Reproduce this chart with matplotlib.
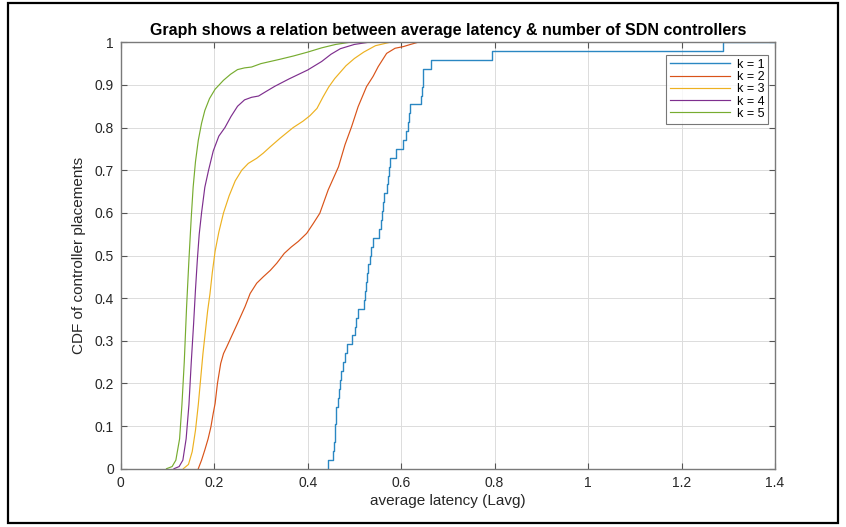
import matplotlib
matplotlib.use("Agg")
import matplotlib.pyplot as plt
from matplotlib.patches import Rectangle
import numpy as np

plt.rcParams['font.family'] = ['Liberation Sans', 'DejaVu Sans']

# k = 1 : sorted average latencies of the 48 single-controller placements (step CDF)
k1_latency = [0.444, 0.455, 0.457, 0.458, 0.459, 0.460, 0.461, 0.465,
              0.468, 0.470, 0.472, 0.476, 0.479, 0.485, 0.495, 0.501,
              0.503, 0.508, 0.521, 0.523, 0.525, 0.527, 0.529, 0.533,
              0.536, 0.540, 0.553, 0.557, 0.559, 0.561, 0.563, 0.570,
              0.572, 0.574, 0.576, 0.590, 0.6045, 0.610, 0.615, 0.616,
              0.618, 0.642, 0.644, 0.646, 0.647, 0.665, 0.7935, 1.288]

# k = 2 .. 5 : CDF (latency, cdf)
k2_x = [0.166, 0.173, 0.180, 0.187, 0.193, 0.198, 0.202, 0.207, 0.214, 0.220,
        0.227, 0.237, 0.250, 0.266, 0.277, 0.291, 0.305, 0.320, 0.334, 0.350,
        0.365, 0.380, 0.398, 0.412, 0.426, 0.444, 0.466, 0.480, 0.494, 0.508,
        0.526, 0.540, 0.551, 0.569, 0.587, 0.605, 0.620, 0.636]
k2_y = [0.0, 0.02, 0.044, 0.07, 0.098, 0.13, 0.153, 0.20, 0.247, 0.27,
        0.286, 0.31, 0.341, 0.38, 0.411, 0.435, 0.45, 0.465, 0.482, 0.505,
        0.52, 0.533, 0.552, 0.575, 0.599, 0.654, 0.708, 0.76, 0.802, 0.849,
        0.896, 0.92, 0.943, 0.974, 0.986, 0.99, 0.995, 1.0]

k3_x = [0.134, 0.145, 0.153, 0.160, 0.166, 0.171, 0.176, 0.181, 0.186, 0.191,
        0.196, 0.202, 0.210, 0.220, 0.232, 0.245, 0.259, 0.273, 0.291, 0.305,
        0.320, 0.341, 0.369, 0.390, 0.405, 0.420, 0.433, 0.445, 0.458, 0.470,
        0.482, 0.500, 0.520, 0.545, 0.576]
k3_y = [0.0, 0.01, 0.04, 0.09, 0.15, 0.21, 0.27, 0.32, 0.37, 0.41,
        0.46, 0.51, 0.555, 0.60, 0.64, 0.675, 0.70, 0.716, 0.728, 0.74,
        0.755, 0.775, 0.80, 0.815, 0.828, 0.845, 0.872, 0.895, 0.915, 0.93,
        0.945, 0.962, 0.977, 0.992, 1.0]

k4_x = [0.114, 0.125, 0.133, 0.140, 0.146, 0.151, 0.156, 0.160, 0.164, 0.168,
        0.173, 0.180, 0.188, 0.198, 0.210, 0.223, 0.236, 0.250, 0.265, 0.280,
        0.295, 0.310, 0.330, 0.360, 0.400, 0.430, 0.450, 0.470, 0.500, 0.530]
k4_y = [0.0, 0.005, 0.02, 0.07, 0.15, 0.25, 0.34, 0.42, 0.49, 0.55,
        0.60, 0.66, 0.70, 0.745, 0.78, 0.80, 0.826, 0.85, 0.865, 0.871,
        0.874, 0.884, 0.897, 0.914, 0.935, 0.955, 0.972, 0.985, 0.995, 1.0]

k5_x = [0.098, 0.110, 0.118, 0.126, 0.131, 0.136, 0.141, 0.146, 0.151, 0.155,
        0.160, 0.166, 0.173, 0.180, 0.190, 0.202, 0.220, 0.235, 0.250, 0.265,
        0.280, 0.300, 0.320, 0.340, 0.370, 0.400, 0.430, 0.460, 0.490]
k5_y = [0.0, 0.005, 0.02, 0.07, 0.15, 0.25, 0.38, 0.49, 0.59, 0.66,
        0.72, 0.77, 0.81, 0.84, 0.868, 0.89, 0.911, 0.925, 0.936, 0.940,
        0.942, 0.950, 0.955, 0.960, 0.968, 0.977, 0.987, 0.995, 1.0]

labels = ['k = 1', 'k = 2', 'k = 3', 'k = 4', 'k = 5']
colors = ['#2a87c2', '#D95319', '#EDB120', '#7E2F8E', '#77AC30']
x_ticks = [0, 0.2, 0.4, 0.6, 0.8, 1, 1.2, 1.4]
y_ticks = [0, 0.1, 0.2, 0.3, 0.4, 0.5, 0.6, 0.7, 0.8, 0.9, 1]

W, H = 846, 527
fig = plt.figure(figsize=(W / 100, H / 100), dpi=100)
ax = fig.add_axes([120.7 / W, 1 - 468.7 / H, (775 - 120.7) / W, (468.7 - 42.3) / H])

# k = 1 empirical CDF (step)
n1 = len(k1_latency)
sx = [k1_latency[0]] + list(k1_latency) + [1.4]
sy = [0.0] + [(i + 1) / n1 for i in range(n1)] + [1.0]
ax.step(sx, sy, where='post', color=colors[0], lw=1.0, label=labels[0])

for xs, ys, c, lab in [(k2_x, k2_y, colors[1], labels[1]),
                       (k3_x, k3_y, colors[2], labels[2]),
                       (k4_x, k4_y, colors[3], labels[3]),
                       (k5_x, k5_y, colors[4], labels[4])]:
    ax.plot(xs, ys, color=c, lw=0.85, label=lab)

ax.set_xlim(0, 1.4)
ax.set_ylim(0, 1)
ax.set_xticks(x_ticks)
ax.set_xticklabels(['0', '0.2', '0.4', '0.6', '0.8', '1', '1.2', '1.4'])
ax.set_yticks(y_ticks)
ax.set_yticklabels(['0', '0.1', '0.2', '0.3', '0.4', '0.5', '0.6', '0.7', '0.8', '0.9', '1'])
ax.grid(True, color='#dcdcdc', lw=0.7)
ax.set_axisbelow(True)
for s in ax.spines.values():
    s.set_color('#7a7a7a')
    s.set_linewidth(1.0)
ax.tick_params(direction='in', length=4, width=0.8, color='#555555',
               labelsize=10, labelcolor='#262626', top=True, right=True, pad=5)

ax.set_title('Graph shows a relation between average latency & number of SDN controllers',
             fontsize=11.5, fontweight='bold', pad=5)
ax.set_xlabel('average latency (Lavg)', fontsize=11, color='#262626', labelpad=3)
ax.set_ylabel('CDF of controller placements', fontsize=11, color='#262626', labelpad=6)

leg = ax.legend(loc='upper right', bbox_to_anchor=(0.99, 0.97), fontsize=9,
                frameon=True, fancybox=False, handlelength=4.8, handletextpad=0.6,
                borderpad=0.3, labelspacing=0.02, borderaxespad=0)
leg.get_frame().set_edgecolor('#555555')
leg.get_frame().set_linewidth(0.8)

# outer black frame
fig.add_artist(Rectangle((8 / W, 1 - 523 / H), (838 - 8) / W, (523 - 3) / H,
                         transform=fig.transFigure, fill=False, ec='black', lw=1.6))

fig.savefig('out.png', dpi=100)
